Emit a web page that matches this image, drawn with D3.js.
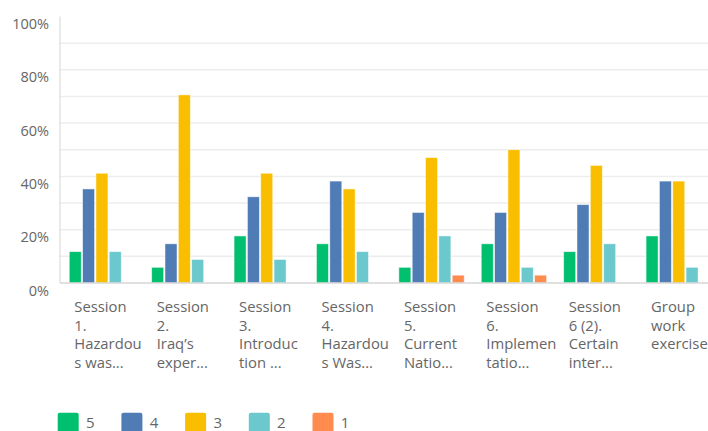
<!DOCTYPE html>
<html><head><meta charset="utf-8">
<script src="https://cdn.jsdelivr.net/npm/d3@7"></script>
<style>
html,body{margin:0;padding:0;background:#fff;overflow:hidden}
text{font-family:"Open Sans",sans-serif;fill:#666}
</style></head>
<body>
<svg id="c" width="708" height="431"></svg>
<script>
const categories = ["s1","s2","s3","s4","s5","s6","s7","s8"];
const categoryLabels = [
  ["Session","1.","Hazardou","s was..."],
  ["Session","2.","Iraq’s","exper..."],
  ["Session","3.","Introduc","tion ..."],
  ["Session","4.","Hazardou","s Was..."],
  ["Session","5.","Current","Natio..."],
  ["Session","6.","Implemen","tatio..."],
  ["Session","6 (2).","Certain","inter..."],
  ["Group","work","exercise"]
];
const seriesNames = ["5","4","3","2","1"];
const seriesColors = ["#00bf6f","#507cb6","#f9be00","#6bc8cd","#ff8b4f"];
const values5 = [11.76, 5.88, 17.65, 14.71, 5.88, 14.71, 11.76, 17.65];
const values4 = [35.29, 14.71, 32.35, 38.24, 26.47, 26.47, 29.41, 38.24];
const values3 = [41.18, 70.59, 41.18, 35.29, 47.06, 50.00, 44.12, 38.24];
const values2 = [11.76, 8.82, 8.82, 11.76, 17.65, 5.88, 14.71, 5.88];
const values1 = [0, 0, 0, 0, 2.94, 2.94, 0, 0];
const seriesValues = [values5, values4, values3, values2, values1];
const yTicks = [0,20,40,60,80,100];
const yGrid = [10,20,30,40,50,60,70,80,90];

const svg = d3.select("#c");
const y = d3.scaleLinear().domain([0,100]).range([283,16.5]);
const x0 = d3.scaleBand().domain(categories).range([60, 60+8*82.4]);
const x1 = d3.scaleBand().domain(seriesNames).range([8.6, 8.6+66.67]).paddingInner(0.1).paddingOuter(0.05);
const color = d3.scaleOrdinal().domain(seriesNames).range(seriesColors);

svg.append("g").selectAll("line").data(yGrid).join("line")
  .attr("x1",60).attr("x2",708).attr("y1",d=>y(d)).attr("y2",d=>y(d))
  .attr("stroke","#ededed").attr("stroke-width",1.5);

svg.append("line").attr("x1",60).attr("x2",60).attr("y1",y(100)).attr("y2",y(0))
  .attr("stroke","#dcdcdc").attr("stroke-width",1.2);

svg.append("g").selectAll("text").data(yTicks).join("text")
  .attr("x",49).attr("y",d=>y(d)+7.5).attr("dy","0.35em")
  .attr("text-anchor","end").attr("font-size",14.5)
  .text(d=>d+"%");

const groups = svg.append("g").selectAll("g").data(categories).join("g")
  .attr("transform",d=>`translate(${x0(d)},0)`);
groups.selectAll("rect").data((d,i)=>seriesNames.map((s,j)=>({s, v:seriesValues[j][i]})).filter(e=>e.v>0))
  .join("rect")
  .attr("x",d=>x1(d.s)).attr("width",x1.bandwidth())
  .attr("y",d=>y(d.v)).attr("height",d=>y(0)-y(d.v))
  .attr("fill",d=>color(d.s))
  .attr("stroke","rgba(255,255,255,0.6)").attr("stroke-width",0.8);

svg.append("line").attr("x1",60).attr("x2",708).attr("y1",y(0)).attr("y2",y(0))
  .attr("stroke","#d6d6d6").attr("stroke-width",1.5);

groups.each(function(d,i){
  const t = d3.select(this).append("text").attr("font-size",14.8).attr("x",14.3);
  t.selectAll("tspan").data(categoryLabels[i]).join("tspan")
    .attr("x",14.3).attr("y",(l,k)=>312+k*18.7).text(l=>l);
});

const leg = svg.append("g").selectAll("g").data(seriesNames).join("g")
  .attr("transform",(d,i)=>`translate(${57.7+i*63.7},412.7)`);
leg.append("rect").attr("width",21).attr("height",21).attr("rx",2).attr("fill",d=>color(d));
leg.append("text").attr("x",28.3).attr("y",10.5).attr("dy","0.35em").attr("font-size",15).text(d=>d);
</script>
</body></html>
